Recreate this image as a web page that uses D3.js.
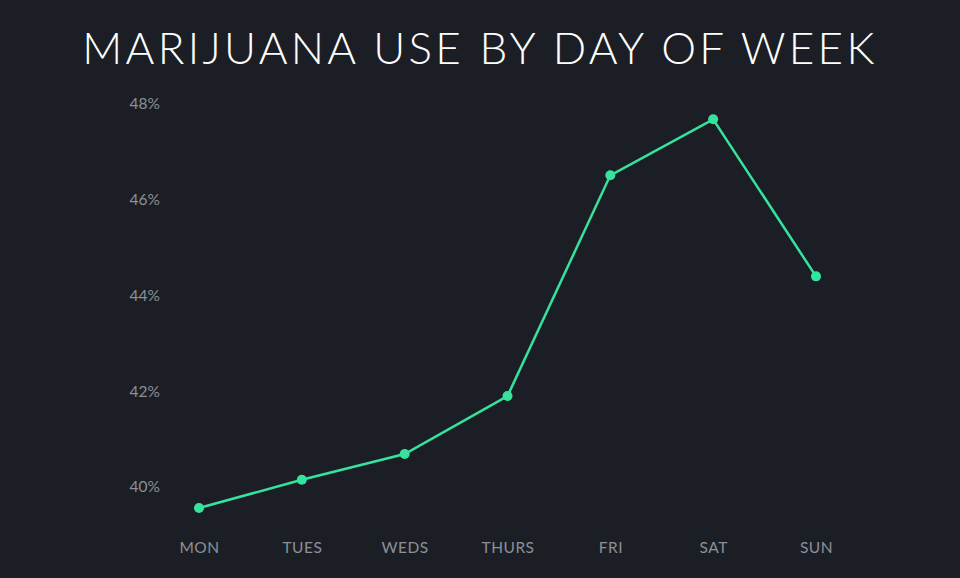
<!DOCTYPE html>
<html>
<head>
<meta charset="utf-8">
<script src="https://d3js.org/d3.v7.min.js"></script>
<style>
  html, body { margin: 0; padding: 0; background: #1b1f25; }
  svg { display: block; }
</style>
</head>
<body>
<div id="chart"></div>
<script>
// data
var days = ["MON", "TUES", "WEDS", "THURS", "FRI", "SAT", "SUN"];
var usePct = [39.56, 40.15, 40.69, 41.9, 46.51, 47.68, 44.4];
var yTicks = [40, 42, 44, 46, 48];

var width = 960, height = 578;

var svg = d3.select("#chart").append("svg")
    .attr("width", width)
    .attr("height", height);

svg.append("rect")
    .attr("width", width)
    .attr("height", height)
    .attr("fill", "#1b1f25");

svg.append("text")
    .attr("x", 480)
    .attr("y", 64)
    .attr("text-anchor", "middle")
    .attr("fill", "#ffffff")
    .attr("font-family", "Lato, 'Open Sans', sans-serif")
    .attr("font-weight", 300)
    .attr("font-size", 44)
    .attr("letter-spacing", 3.3)
    .text("MARIJUANA USE BY DAY OF WEEK");

var x = d3.scalePoint()
    .domain(days)
    .range([199, 816]);

var y = d3.scaleLinear()
    .domain([40, 48])
    .range([487, 104]);

// y axis labels
var yAxis = svg.append("g")
    .attr("transform", "translate(160,0)")
    .call(d3.axisLeft(y).tickValues(yTicks).tickSize(0).tickPadding(0)
        .tickFormat(d => d + "%"));
yAxis.select(".domain").remove();
yAxis.selectAll("text")
    .attr("fill", "#8b9098")
    .attr("font-family", "Lato, 'Open Sans', sans-serif")
    .attr("font-size", 15.5);

// x axis labels
var xAxis = svg.append("g")
    .attr("transform", "translate(0,542)")
    .call(d3.axisBottom(x).tickSize(0).tickPadding(0));
xAxis.select(".domain").remove();
xAxis.selectAll("text")
    .attr("fill", "#8b9098")
    .attr("font-family", "Lato, 'Open Sans', sans-serif")
    .attr("font-size", 15.5)
    .attr("letter-spacing", 0.5);

var pts = days.map((d, i) => ({day: d, v: usePct[i]}));

svg.append("path")
    .datum(pts)
    .attr("fill", "none")
    .attr("stroke", "#35e39c")
    .attr("stroke-width", 2.5)
    .attr("d", d3.line()
        .x(d => x(d.day))
        .y(d => y(d.v)));

svg.selectAll("circle.pt")
    .data(pts)
    .enter().append("circle")
    .attr("class", "pt")
    .attr("cx", d => x(d.day))
    .attr("cy", d => y(d.v))
    .attr("r", 5)
    .attr("fill", "#35e39c");
</script>
</body>
</html>
